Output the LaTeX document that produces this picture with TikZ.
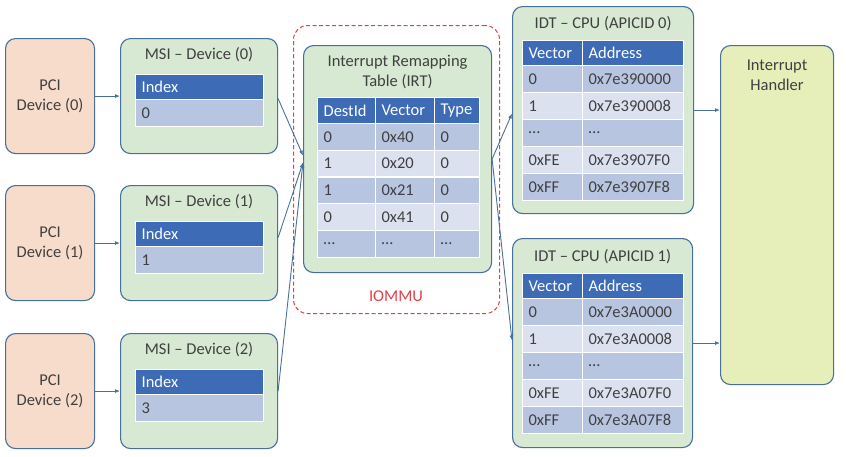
\documentclass[tikz,border=0pt]{standalone}
\usepackage{fontspec}
\setmainfont{Carlito}
\usetikzlibrary{arrows.meta}

\definecolor{pcifill}{RGB}{248,220,203}
\definecolor{grnfill}{RGB}{215,232,211}
\definecolor{hdlfill}{RGB}{230,238,186}
\definecolor{boxline}{RGB}{72,112,156}
\definecolor{hdrfill}{RGB}{61,107,182}
\definecolor{rowdark}{RGB}{184,197,224}
\definecolor{rowlight}{RGB}{219,225,239}
\definecolor{txt}{RGB}{64,64,64}
\definecolor{iommured}{RGB}{226,64,74}

\tikzset{
  every node/.style={font=\fontsize{16.5pt}{20pt}\selectfont, text=txt},
  box/.style={draw=boxline, line width=1.1pt, rounded corners=10pt, anchor=north west},
  pcibox/.style={box, fill=pcifill, minimum width=89pt, minimum height=115pt},
  grnbox/.style={box, fill=grnfill},
  ttl/.style={inner sep=0pt, align=center},
  cell/.style={draw=white, line width=1.2pt, anchor=north west, inner xsep=6pt,
    inner ysep=0pt, align=left},
  hdr/.style={cell, fill=hdrfill, text=white, minimum height=25pt},
  rowa/.style={cell, fill=rowdark, minimum height=27pt},
  rowb/.style={cell, fill=rowlight, minimum height=27pt},
  link/.style={draw=boxline, line width=0.9pt, -{Latex[length=5pt,width=4pt]}},
}

\begin{document}
\begin{tikzpicture}[x=1pt,y=-1pt]
  \useasboundingbox (0,0) rectangle (846,456);

  % PCI devices and their MSI entries
  \foreach \n/\t/\v in {0/38/0, 1/185/1, 2/333/3} {
    \node[pcibox, align=center] (pci\n) at (5,\t) {PCI\\Device (\n)};
    \node[grnbox, minimum width=157pt, minimum height=115pt] (msi\n) at (120,\t) {};
    \node[ttl] (msi\n-t) at ([yshift=-17pt]msi\n.north) {MSI – Device (\n)};
    \node[hdr, text width=116pt] (msi\n-h) at (135,{\t+36}) {Index};
    \node[rowa, text width=116pt] (msi\n-v) at (135,{\t+61}) {\v};
    \draw[link] (pci\n) -- (msi\n);
  }

  % IOMMU frame
  \node[draw=iommured, line width=1pt, dash pattern=on 4pt off 2.5pt,
    rounded corners=14pt, anchor=north west, minimum width=206pt,
    minimum height=288pt] (iommu) at (293,25) {};
  \node[text=iommured] (iommu-t) at (396,296) {IOMMU};

  % Interrupt remapping table
  \node[grnbox, minimum width=188pt, minimum height=227pt] (irt) at (303,45) {};
  \node[ttl] (irt-t) at ([yshift=-27pt]irt.north) {Interrupt Remapping\\Table (IRT)};
  \node[hdr, text width=46pt, minimum height=26pt] (irt-h1) at (317,97) {DestId};
  \node[hdr, text width=47pt, minimum height=26pt] (irt-h2) at (375,97) {Vector};
  \node[hdr, text width=33pt, minimum height=26pt] (irt-h3) at (434,97) {Type};
  \foreach \d/\v/\ty/\s [count=\i] in {0/0x40/0/rowa, 1/0x20/0/rowb, 1/0x21/0/rowa,
      0/0x41/0/rowb, \ldots/\ldots/\ldots/rowa} {
    \node[\s, text width=46pt, minimum height=26.7pt] (irt-\i-d) at (317,{123+(\i-1)*26.7}) {\d};
    \node[\s, text width=47pt, minimum height=26.7pt] (irt-\i-v) at (375,{123+(\i-1)*26.7}) {\v};
    \node[\s, text width=33pt, minimum height=26.7pt] (irt-\i-t) at (434,{123+(\i-1)*26.7}) {\ty};
  }

  % IDT of CPU 0
  \node[grnbox, minimum width=181pt, minimum height=207pt] (idt0) at (512,6) {};
  \node[ttl] (idt0-t) at ([yshift=-18pt]idt0.north) {IDT – CPU (APICID 0)};
  \node[hdr, text width=48pt] (idt0-h1) at (522,40) {Vector};
  \node[hdr, text width=89pt] (idt0-h2) at (582,40) {Address};
  \foreach \v/\a/\s [count=\i] in {0/0x7e390000/rowa, 1/0x7e390008/rowb,
      \ldots/\ldots/rowa, 0xFE/0x7e3907F0/rowb, 0xFF/0x7e3907F8/rowa} {
    \node[\s, text width=48pt] (idt0-\i-v) at (522,{65+(\i-1)*27}) {\v};
    \node[\s, text width=89pt] (idt0-\i-a) at (582,{65+(\i-1)*27}) {\a};
  }

  % IDT of CPU 1
  \node[grnbox, minimum width=180pt, minimum height=209pt] (idt1) at (512,238) {};
  \node[ttl] (idt1-t) at ([yshift=-19pt]idt1.north) {IDT – CPU (APICID 1)};
  \node[hdr, text width=48pt] (idt1-h1) at (522,273) {Vector};
  \node[hdr, text width=89pt] (idt1-h2) at (582,273) {Address};
  \foreach \v/\a/\s [count=\i] in {0/0x7e3A0000/rowa, 1/0x7e3A0008/rowb,
      \ldots/\ldots/rowa, 0xFE/0x7e3A07F0/rowb, 0xFF/0x7e3A07F8/rowa} {
    \node[\s, text width=48pt] (idt1-\i-v) at (522,{298+(\i-1)*27}) {\v};
    \node[\s, text width=89pt] (idt1-\i-a) at (582,{298+(\i-1)*27}) {\a};
  }

  % Handler
  \node[box, fill=hdlfill, minimum width=113pt, minimum height=339pt] (hdl) at (720,45) {};
  \node[ttl] (hdl-t) at ([yshift=-30pt]hdl.north) {Interrupt\\Handler};

  % Links
  \draw[link] ([yshift=-2.5pt]msi0.east) -- ([yshift=3.5pt]irt.west);
  \draw[link] ([yshift=5.5pt]msi1.east) -- ([yshift=-3.5pt]irt.west);
  \draw[link] (msi2.east) -- ([yshift=-3.5pt]irt.west);
  \draw[link] (irt.east) -- ([yshift=-3.5pt]idt0.west);
  \draw[link] (irt.east) -- ([yshift=2.5pt]idt1.west);
  \draw[link] (idt0.east) -- (idt0.east -| hdl.west);
  \draw[link] (idt1.east) -- (idt1.east -| hdl.west);
\end{tikzpicture}
\end{document}
